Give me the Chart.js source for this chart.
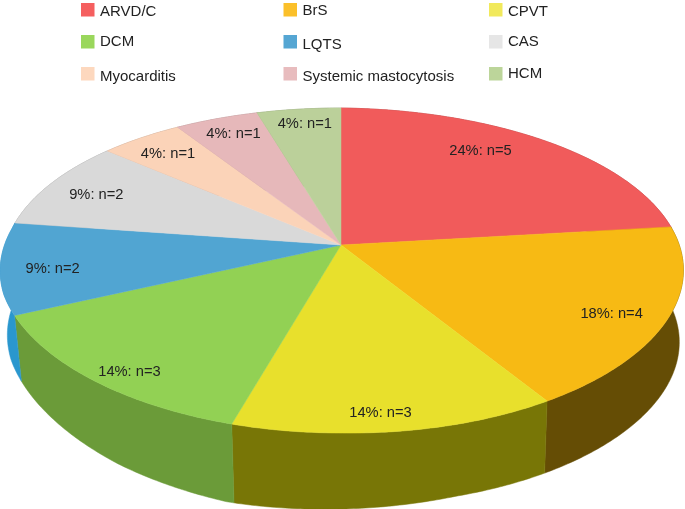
<!DOCTYPE html>
<html><head><meta charset="utf-8">
<style>html,body{margin:0;padding:0;background:#fff;overflow:hidden}canvas{display:block}</style>
<script src="https://cdn.jsdelivr.net/npm/chart.js@4"></script>
</head><body><canvas id="c" width="685" height="509"></canvas>
<script>
const categories = ["ARVD/C","BrS","CPVT","DCM","LQTS","CAS","Myocarditis","Systemic mastocytosis","HCM"];
const counts = [5,4,3,3,2,2,1,1,1];
const percents = [24,18,14,14,9,9,4,4,4];
const topColors = ["#F15B5B","#F7BA14","#E8E02C","#92D154","#51A5D2","#D9D9D9","#FBD3B8","#E6B8BA","#BBD09A"];
const wallColors = ["#A03C3C","#654D05","#787606","#6B9B39","#2A97CE","#909090","#A88E7C","#9A7C7D","#7E8C68"];
const swatchColors = ["#F55F5F","#FBC02A","#F1E95C","#9AD75C","#55A6D3","#E6E6E6","#FDD8BE","#E8BCBE","#BCD59A"];

// Perspective of the disc and the depth profile of its side wall
const view = {cx:341, cy:245, A:339.5, leftTrim:0.012, B:158.5, kx:0.13, ky:0.157, skew:0.012, shrinkLeft:0.979, shrinkRight:0.988};
const depthU = [-1,-.9,-.6,-.3,0,.3,1];
const depthPx = [64,66,74,79,76,72,72];
const labelRadius = [.80,.85,.91,.91,.85,.83,.84,.86,.875];
const labelTurn = [-7,2.5,1.7,-2.5,-2,-1,-.7,.3,.3];
const legendLayout = {cols:[81,283.5,489], rows:[3,35,67], box:13.5, gap:5.5,
  textY:[12,11,12, 42,45,42, 77,77,74], font:'15px "Liberation Sans"'};

function project(angle, r){ // angle: Chart.js arc angle
  const t = angle + Math.PI/2, u = r*Math.sin(t), v = r*Math.cos(t);
  const trim = u<0 ? 1 - view.leftTrim*Math.min(1,Math.max(0,(v+.3)/.4)) : 1;
  const dx = view.A*trim*u/(1+view.kx*v);
  return {x:view.cx + dx, y:view.cy - view.B*v/(1+view.ky*v) + view.skew*Math.max(dx,0), u, v};
}
function depth(u){
  for(let i=1;i<depthU.length;i++) if(u<=depthU[i]){
    const f=(u-depthU[i-1])/(depthU[i]-depthU[i-1]);
    return depthPx[i-1]+f*(depthPx[i]-depthPx[i-1]);
  }
  return depthPx[depthPx.length-1];
}
function lower(p){
  const s = p.x<view.cx ? view.shrinkLeft : view.shrinkRight;
  return {x:view.cx + s*(p.x-view.cx), y:p.y + depth(p.u)};
}
function arcPoints(a0,a1){
  const pts=[], n=Math.max(4,Math.ceil((a1-a0)/0.01));
  for(let i=0;i<=n;i++) pts.push(project(a0+(a1-a0)*i/n,1));
  return pts;
}
const perspectivePie = {
  id:'perspectivePie',
  beforeDatasetDraw(chart,args){
    const ctx=chart.ctx, arcs=args.meta.data;
    arcs.forEach((el,i)=>{
      const pts=arcPoints(el.startAngle,el.endAngle);
      ctx.beginPath();
      pts.forEach((p,j)=>j?ctx.lineTo(p.x,p.y):ctx.moveTo(p.x,p.y));
      pts.slice().reverse().forEach(p=>{const q=lower(p);ctx.lineTo(q.x,q.y);});
      ctx.closePath();
      ctx.fillStyle=wallColors[i]; ctx.strokeStyle=wallColors[i]; ctx.lineWidth=0.5;
      ctx.fill(); ctx.stroke();
    });
    arcs.forEach((el,i)=>{
      const pts=arcPoints(el.startAngle,el.endAngle);
      const c=project(el.startAngle,0);
      ctx.beginPath(); ctx.moveTo(c.x,c.y);
      pts.forEach(p=>ctx.lineTo(p.x,p.y));
      ctx.closePath();
      ctx.fillStyle=el.options.backgroundColor; ctx.strokeStyle=el.options.backgroundColor; ctx.lineWidth=0.5;
      ctx.fill(); ctx.stroke();
    });
    ctx.fillStyle='#222'; ctx.font='14.7px "Liberation Sans"'; ctx.textAlign='center'; ctx.textBaseline='middle';
    arcs.forEach((el,i)=>{
      const mid=(el.startAngle+el.endAngle)/2+labelTurn[i]*Math.PI/180;
      const p=project(mid,labelRadius[i]);
      ctx.fillText(percents[i]+'%: n='+counts[i],p.x,p.y);
    });
    return false;
  },
  afterDraw(chart){
    const ctx=chart.ctx, L=legendLayout;
    ctx.font=L.font; ctx.textAlign='left'; ctx.textBaseline='middle';
    categories.forEach((name,i)=>{
      const x=L.cols[i%3], y=L.rows[Math.floor(i/3)];
      ctx.fillStyle=swatchColors[i]; ctx.fillRect(x,y,L.box,L.box);
      ctx.fillStyle='#222'; ctx.fillText(name,x+L.box+L.gap,L.textY[i]);
    });
  }
};
new Chart(document.getElementById('c'),{
  type:'pie',
  data:{labels:categories,datasets:[{data:counts,backgroundColor:topColors,borderWidth:0}]},
  options:{responsive:false,animation:false,plugins:{legend:{display:false},tooltip:{enabled:false}}},
  plugins:[perspectivePie]
});
</script></body></html>
